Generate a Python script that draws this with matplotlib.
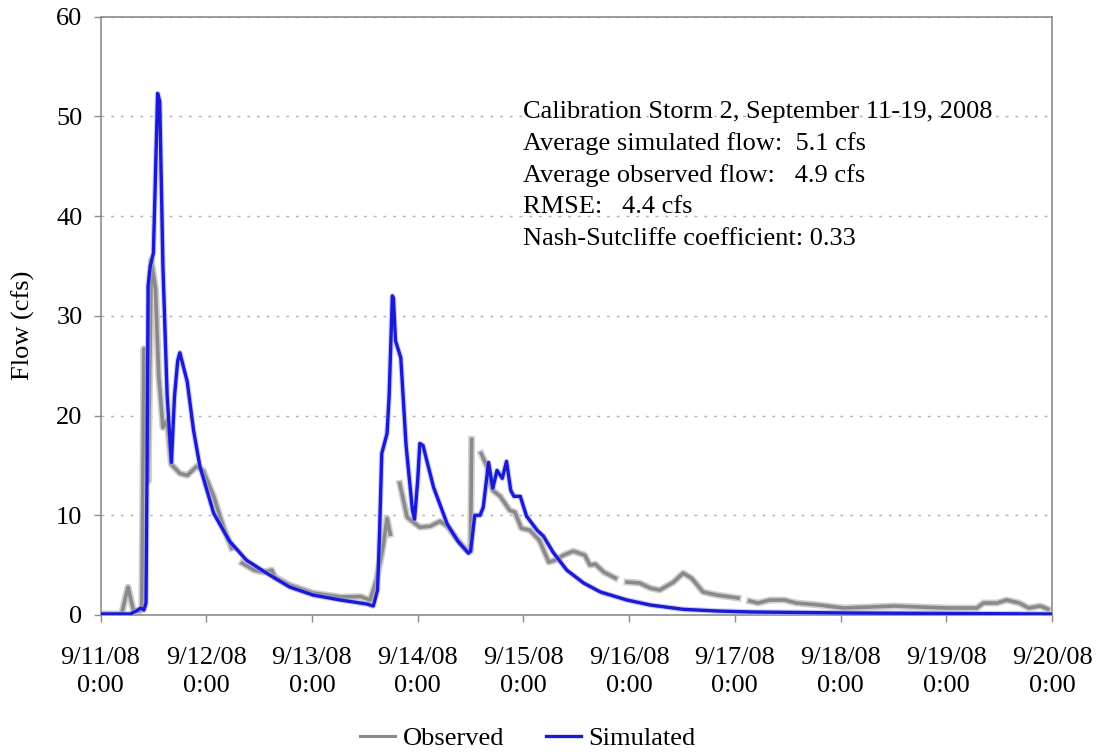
## flow calibration chart: observed vs simulated hydrograph
import numpy as np
import matplotlib
matplotlib.use('Agg')
import matplotlib.pyplot as plt
from matplotlib.lines import Line2D

plt.rcParams['font.family'] = ['Liberation Serif', 'DejaVu Serif']

## observed flow (days since 9/11/08 0:00, cfs); NaN marks gaps in the record
obs_day = [0.00, 0.20, 0.23, 0.26, 0.31, 0.37, 0.39, 0.40, 0.41, 0.43, 0.45, 0.47, 0.48, 0.52,
           0.55, 0.59, 0.63, 0.67, 0.75, 0.82, 0.91, 0.97, 1.07, 1.16, 1.24, 1.29,
           1.34, 1.45, 1.54, 1.62, 1.65, 1.79, 2.01, 2.27, 2.46, 2.55, 2.61, 2.67, 2.71,
           2.74, 2.77,
           2.83, 2.90, 3.02, 3.12, 3.21, 3.28, 3.38, 3.47, 3.50, 3.51, 3.55,
           3.60, 3.66, 3.71, 3.78, 3.87, 3.92, 3.98, 4.06, 4.15, 4.24, 4.30, 4.38, 4.47,
           4.58, 4.63, 4.68, 4.76, 4.87, 4.92,
           4.98, 5.10, 5.20, 5.29, 5.42, 5.51, 5.59, 5.70, 5.83, 6.03, 6.08,
           6.14, 6.22, 6.33, 6.47, 6.58, 6.80, 7.03, 7.27, 7.51, 7.74, 8.02, 8.29, 8.35,
           8.48, 8.57, 8.69, 8.78, 8.89, 8.96]
obs_flow = [0.1, 0.1, 1.5, 2.8, 0.5, 0.4, 0.6, 12.6, 26.7, 20, 13.4, 28, 35.6, 32.7,
            24, 18.8, 19.5, 15.1, 14.2, 14.0, 14.9, 14.5, 11.9, 8.9, 6.7, np.nan,
            5.2, 4.5, 4.3, 4.5, 3.8, 3.0, 2.2, 1.8, 1.85, 1.5, 3.5, 6.7, 9.7,
            8.1, np.nan,
            13.2, 9.8, 8.8, 8.9, 9.4, 8.9, 7.5, 6.4, 6.4, 17.6, np.nan,
            16.2, 14.8, 12.5, 11.9, 10.5, 10.3, 8.7, 8.5, 7.5, 5.3, 5.5, 6.0, 6.4,
            6.0, 5.0, 5.1, 4.3, 3.7, np.nan,
            3.3, 3.2, 2.7, 2.5, 3.3, 4.2, 3.7, 2.3, 2.0, 1.7, np.nan,
            1.4, 1.2, 1.5, 1.5, 1.2, 1.0, 0.7, 0.8, 0.9, 0.8, 0.7, 0.7, 1.2,
            1.2, 1.5, 1.2, 0.7, 0.9, 0.6]

## simulated flow
sim_day = [0.00, 0.28, 0.34, 0.38, 0.41, 0.43, 0.44, 0.45, 0.47, 0.50, 0.54, 0.56, 0.59,
           0.63, 0.67, 0.70, 0.73, 0.75, 0.82, 0.88, 0.94, 1.07, 1.22, 1.38, 1.57, 1.79,
           2.01, 2.27, 2.52, 2.58, 2.62, 2.64, 2.66, 2.71, 2.73, 2.76, 2.77, 2.79, 2.84,
           2.89, 2.95, 2.97, 3.00, 3.02, 3.05, 3.15, 3.28, 3.38, 3.48, 3.50, 3.54, 3.59,
           3.62, 3.67, 3.71, 3.75, 3.80, 3.84, 3.88, 3.91, 3.97, 4.03, 4.13, 4.19, 4.28,
           4.41, 4.57, 4.73, 4.98, 5.20, 5.51, 5.83, 6.15, 7.09, 9.00]
sim_flow = [0.1, 0.1, 0.4, 0.7, 0.5, 1.2, 15, 33, 35, 36.3, 52.3, 51.5, 35,
            22, 15.3, 22, 25.5, 26.3, 23.4, 18.5, 14.9, 10.2, 7.4, 5.5, 4.2, 2.8,
            2.0, 1.5, 1.1, 0.9, 2.5, 8.5, 16.2, 18.2, 22, 32, 31.8, 27.5, 25.8,
            17, 10.5, 9.6, 13.5, 17.2, 17, 12.8, 9.1, 7.4, 6.2, 6.4, 10, 10,
            10.8, 15.3, 12.7, 14.5, 13.7, 15.4, 12.5, 11.9, 11.9, 9.9, 8.5, 7.9, 6.3,
            4.5, 3.2, 2.3, 1.5, 1.0, 0.57, 0.4, 0.3, 0.2, 0.1]

tick_labels = ['9/11/08\n0:00', '9/12/08\n0:00', '9/13/08\n0:00', '9/14/08\n0:00',
               '9/15/08\n0:00', '9/16/08\n0:00', '9/17/08\n0:00', '9/18/08\n0:00',
               '9/19/08\n0:00', '9/20/08\n0:00']

stats_text = ['Calibration Storm 2, September 11-19, 2008',
              'Average simulated flow:  5.1 cfs',
              'Average observed flow:   4.9 cfs',
              'RMSE:   4.4 cfs',
              'Nash-Sutcliffe coefficient: 0.33']

obs_color = '#8a8a8a'
sim_color = '#1a1ad6'

fig = plt.figure(figsize=(11, 7.52), dpi=100)
ax = fig.add_axes([0.0914, 0.1822, 0.865, 0.7956])

## soft halos under the lines, then the lines themselves
ax.plot(obs_day, obs_flow, color='#cfcfcf', linewidth=5, zorder=2)
ax.plot(obs_day, obs_flow, color=obs_color, linewidth=2.6, zorder=3)
ax.plot(sim_day, sim_flow, color='#a8a8ee', linewidth=4, alpha=0.6, zorder=4)
ax.plot(sim_day, sim_flow, color=sim_color, linewidth=2.4, zorder=5)

ax.set_xlim(0, 9)
ax.set_ylim(0, 60)
ax.set_xticks(range(len(tick_labels)))
ax.set_xticklabels(tick_labels, linespacing=1.33)
ax.set_yticks(range(0, 61, 10))
ax.tick_params(labelsize=19, colors='black', length=5, width=1, direction='out', pad=8)
ax.tick_params(axis='x', pad=18)
ax.tick_params(axis='both', color='#8c8c8c')
ax.grid(axis='y', linestyle=(0, (2, 5)), color='#b0b0b0', linewidth=1)
for s in ax.spines.values():
    s.set_color('#8c8c8c')
    s.set_linewidth(1.2)
ax.set_ylabel('Flow (cfs)', fontsize=19)
ax.yaxis.set_label_coords(-0.069, 0.485)

## statistics block
for i, line in enumerate(stats_text):
    ax.text(0.444, 0.841 - i * 0.053, line, transform=ax.transAxes, fontsize=19,
            va='center', ha='left')

handles = [Line2D([], [], color=obs_color, linewidth=2.2),
           Line2D([], [], color=sim_color, linewidth=2.4)]
fig.legend(handles, ['Observed', 'Simulated'], loc='center', bbox_to_anchor=(0.48, 0.018),
           ncol=2, frameon=False, fontsize=19, handlelength=1.3, columnspacing=1.6,
           handletextpad=0.3)

fig.savefig('out.png', dpi=100)
